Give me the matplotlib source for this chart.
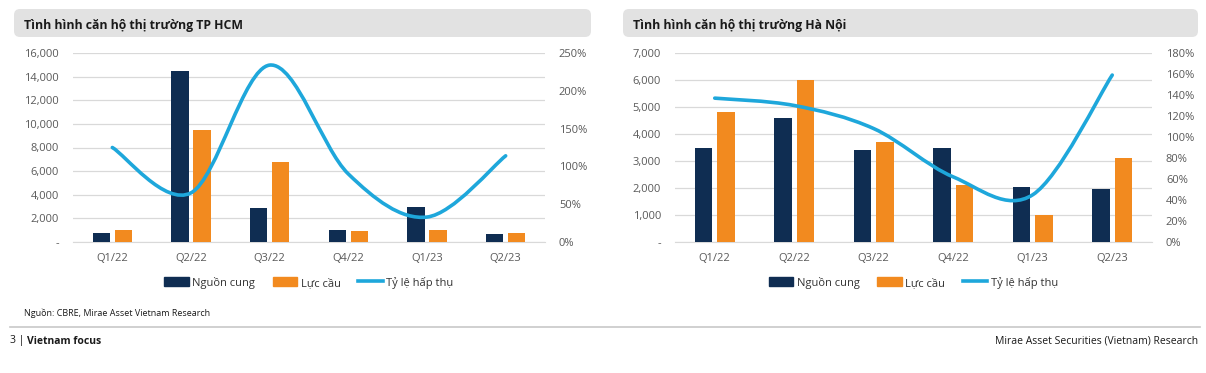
import matplotlib
matplotlib.use('Agg')
import matplotlib.pyplot as plt
from matplotlib.patches import FancyBboxPatch, Patch, PathPatch
from matplotlib.lines import Line2D
from matplotlib.path import Path
from matplotlib.transforms import IdentityTransform
from matplotlib.ticker import FuncFormatter, MultipleLocator
import numpy as np

plt.rcParams['font.family'] = ['Open Sans', 'DejaVu Sans']

quarters = ['Q1/22', 'Q2/22', 'Q3/22', 'Q4/22', 'Q1/23', 'Q2/23']

# TP HCM
hcm_supply = [800, 14500, 2900, 1000, 3000, 700]
hcm_demand = [1000, 9500, 6800, 900, 1000, 800]
hcm_absorb = [1.25, 0.65, 2.34, 0.90, 0.33, 1.14]

# Ha Noi
hn_supply = [3500, 4600, 3400, 3500, 2050, 1950]
hn_demand = [4800, 6000, 3700, 2100, 1000, 3100]
hn_absorb = [1.37, 1.30, 1.08, 0.62, 0.45, 1.59]

NAVY = '#0f2d52'
ORANGE = '#f28a1f'
BLUE = '#1ea7db'
GRID = '#d9d9d9'
TXT = '#595959'

W, H = 1206, 373


def smooth_path(xs, ys):
    # ligne lissée façon Excel (Catmull-Rom -> Bezier cubique)
    pts = np.column_stack([xs, ys]).astype(float)
    ext = np.vstack([pts[0], pts, pts[-1]])
    verts = [pts[0]]
    codes = [Path.MOVETO]
    for i in range(1, len(ext) - 2):
        p0, p1, p2, p3 = ext[i - 1], ext[i], ext[i + 1], ext[i + 2]
        verts += [p1 + (p2 - p0) / 6, p2 - (p3 - p1) / 6, p2]
        codes += [Path.CURVE4] * 3
    return Path(verts, codes)


def draw_panel(fig, rect, title, box, supply, demand, absorb, ymax, ystep, rmax, rstep):
    ax = fig.add_axes(rect)
    x = np.arange(len(quarters))
    w = 0.22
    ax.bar(x - 0.14, supply, w, color=NAVY, zorder=3)
    ax.bar(x + 0.14, demand, w, color=ORANGE, zorder=3)
    ax.set_xlim(-0.5, len(quarters) - 0.5)
    ax.set_ylim(0, ymax)
    ax.yaxis.set_major_locator(MultipleLocator(ystep))
    ax.yaxis.set_major_formatter(FuncFormatter(lambda v, p: '-' if v == 0 else f'{v:,.0f}'))
    ax.set_xticks(x)
    ax.set_xticklabels(quarters)
    ax.grid(axis='y', color=GRID, lw=0.9, zorder=0)
    for s in ['top', 'right', 'left']:
        ax.spines[s].set_visible(False)
    ax.spines['bottom'].set_color(GRID)
    ax.tick_params(length=0, labelsize=8, colors=TXT)
    ax.tick_params(axis='y', pad=10)
    ax.tick_params(axis='x', pad=8)

    ax2 = ax.twinx()
    ax2.set_ylim(0, rmax)
    ax2.yaxis.set_major_locator(MultipleLocator(rstep))
    ax2.yaxis.set_major_formatter(FuncFormatter(lambda v, p: f'{v * 100:.0f}%'))
    for s in ax2.spines.values():
        s.set_visible(False)
    ax2.tick_params(length=0, labelsize=8, colors=TXT, pad=10)
    ax2.add_patch(PathPatch(smooth_path(x, absorb), fill=False, edgecolor=BLUE,
                            lw=2.6, capstyle='round', zorder=4))

    handles = [Patch(color=NAVY), Patch(color=ORANGE), Line2D([], [], color=BLUE, lw=2.6)]
    ax.legend(handles, ['Nguồn cung', 'Lực cầu', 'Tỷ lệ hấp thụ'], loc='center',
              bbox_to_anchor=(0.5, -0.215), ncol=3, frameon=False, fontsize=8,
              handlelength=2.2, handleheight=0.9, handletextpad=0.3, columnspacing=1.6,
              labelcolor='#333333')

    # bandeau du titre, en pixels
    bx0, by0, bw, bh = box
    fig.patches.append(FancyBboxPatch((bx0, H - by0 - bh), bw, bh,
                                      boxstyle='round,pad=0,rounding_size=6',
                                      transform=IdentityTransform(), facecolor='#e2e2e2',
                                      edgecolor='none'))
    fig.text((bx0 + 10) / W, (H - by0 - bh / 2 - 2) / H, title, fontsize=8.8, fontweight='bold',
             color='#1a1a1a', va='center', ha='left')


fig = plt.figure(figsize=(W / 100, H / 100), dpi=100)
fig.patch.set_facecolor('white')

draw_panel(fig, [73 / W, (H - 242) / H, 472 / W, 189 / H],
           'Tình hình căn hộ thị trường TP HCM',
           (14, 9, 577, 28),
           hcm_supply, hcm_demand, hcm_absorb, 16000, 2000, 2.5, 0.5)
draw_panel(fig, [675 / W, (H - 242) / H, 477 / W, 189 / H],
           'Tình hình căn hộ thị trường Hà Nội',
           (623, 9, 575, 28),
           hn_supply, hn_demand, hn_absorb, 7000, 1000, 1.8, 0.2)

fig.text(24 / W, (H - 313) / H, 'Nguồn: CBRE, Mirae Asset Vietnam Research',
         fontsize=6.5, color='#1a1a1a', va='center')
fig.add_artist(Line2D([10 / W, 1200 / W], [(H - 327) / H] * 2, color='#c8c8c8', lw=1.2,
                      transform=fig.transFigure))
fig.text(10 / W, (H - 341) / H, '3 | ', fontsize=7.5, color='#1a1a1a', va='center')
fig.text(27 / W, (H - 341) / H, 'Vietnam focus', fontsize=7.5, fontweight='bold',
         color='#1a1a1a', va='center')
fig.text(1198 / W, (H - 341) / H, 'Mirae Asset Securities (Vietnam) Research', fontsize=7.5,
         color='#1a1a1a', va='center', ha='right')

fig.savefig('out.png', dpi=100)
